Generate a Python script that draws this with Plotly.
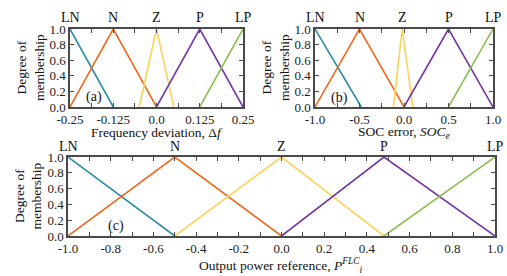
import plotly.graph_objects as go

W, H = 507, 276

labels = ["LN", "N", "Z", "P", "LP"]
colors = ["#2b8ca3", "#f06a1c", "#fdd35c", "#7236a6", "#8dbf52"]

# (a) frequency deviation membership functions
a_x = {
    "LN": [-0.25, -0.125],
    "N": [-0.25, -0.125, 0.0],
    "Z": [-0.05, 0.0, 0.05],
    "P": [0.0, 0.125, 0.25],
    "LP": [0.125, 0.25],
}
a_y = {
    "LN": [1, 0],
    "N": [0, 1, 0],
    "Z": [0, 1, 0],
    "P": [0, 1, 0],
    "LP": [0, 1],
}
a_peaks = [-0.25, -0.125, 0.0, 0.125, 0.25]
a_ticks = [-0.25, -0.125, 0.0, 0.125, 0.25]
a_ticktext = ["-0.25", "-0.125", "0.0", "0.125", "0.25"]

# (b) SOC error membership functions
b_x = {
    "LN": [-1.0, -0.48],
    "N": [-1.0, -0.5, 0.0],
    "Z": [-0.12, -0.02, 0.1],
    "P": [0.0, 0.5, 1.0],
    "LP": [0.5, 1.0],
}
b_y = a_y
b_peaks = [-1.0, -0.5, -0.02, 0.5, 1.0]
b_ticks = [-1.0, -0.5, 0.0, 0.5, 1.0]
b_ticktext = ["-1.0", "-0.5", "0.0", "0.5", "1.0"]

# (c) output power reference membership functions
c_x = {
    "LN": [-1.0, -0.5],
    "N": [-1.0, -0.5, 0.0],
    "Z": [-0.5, 0.0, 0.48],
    "P": [0.0, 0.48, 1.0],
    "LP": [0.48, 1.0],
}
c_y = a_y
c_peaks = [-1.0, -0.5, 0.0, 0.48, 1.0]
c_ticks = [-1.0, -0.8, -0.6, -0.4, -0.2, 0.0, 0.2, 0.4, 0.6, 0.8, 1.0]
c_ticktext = ["-1.0", "-0.8", "-0.6", "-0.4", "-0.2", "0.0", "0.2", "0.4", "0.6", "0.8", "1.0"]

y_ticks = [0.0, 0.2, 0.4, 0.6, 0.8, 1.0]
y_ticktext = ["0.0", "0.2", "0.4", "0.6", "0.8", "1.0"]

FONT = "Liberation Serif"
AX = "#4a4a4a"

def px_x(p):
    return p / W

def px_y(p):
    return 1 - p / H

panels = [
    ("a", a_x, a_y, a_peaks, a_ticks, a_ticktext, [-0.25, 0.25], 0.0625, (70, 243), (29, 107), (-0.18, 0.13),
     "Frequency deviation, Δ<i>f</i>", 157, 25),
    ("b", b_x, b_y, b_peaks, b_ticks, b_ticktext, [-1.0, 1.0], 0.25, (315, 493), (29, 107), (-0.73, 0.12),
     "SOC error, <i>SOC<sub>e</sub></i>", 404, 25),
    ("c", c_x, c_y, c_peaks, c_ticks, c_ticktext, [-1.0, 1.0], 0.1, (68, 495), (157, 236), (-0.775, 0.13),
     "Output power reference, <i>P<sup>FLC</sup><sub>i</sub></i>", 281, 29),
]

fig = go.Figure()
annotations = []
layout = {}

for i, (name, xs, ys, peaks, ticks, ttext, rng, mdt, dx, dy, lab, xtitle, xtc, xto) in enumerate(panels):
    sfx = "" if i == 0 else str(i + 1)
    xa, ya = "x" + sfx, "y" + sfx
    for lbl, col in zip(labels, colors):
        fig.add_trace(go.Scatter(x=xs[lbl], y=ys[lbl], mode="lines",
                                 line=dict(color=col, width=1.6),
                                 xaxis=xa, yaxis=ya, showlegend=False,
                                 hoverinfo="skip"))
    layout["xaxis" + sfx] = dict(
        domain=[px_x(dx[0]), px_x(dx[1])], anchor=ya, range=rng,
        tickmode="array", tickvals=ticks, ticktext=ttext,
        ticks="inside", ticklen=4, tickwidth=1, tickcolor=AX,
        minor=dict(ticks="inside", dtick=mdt, tick0=rng[0], ticklen=4, tickcolor=AX, tickwidth=1),
        showline=True, linecolor=AX, linewidth=1.5, mirror="ticks",
        showgrid=False, zeroline=False,
        tickfont=dict(family=FONT, size=13, color="#222"),
    )
    layout["yaxis" + sfx] = dict(
        domain=[px_y(dy[1]), px_y(dy[0])], anchor=xa, range=[0, 1],
        tickmode="array", tickvals=y_ticks, ticktext=y_ticktext,
        ticks="inside", ticklen=4, tickwidth=1, tickcolor=AX,
        showline=True, linecolor=AX, linewidth=1.5, mirror="ticks",
        showgrid=False, zeroline=False,
        tickfont=dict(family=FONT, size=13, color="#222"),
    )
    for lbl, pk in zip(labels, peaks):
        annotations.append(dict(x=pk, y=px_y(dy[0] - 11), xref=xa, yref="paper",
                                text=lbl, showarrow=False, xanchor="center", yanchor="middle",
                                font=dict(family=FONT, size=14, color="#111")))
    annotations.append(dict(x=lab[0], y=lab[1], xref=xa, yref=ya, text="(" + name + ")",
                            showarrow=False, xanchor="center", yanchor="middle",
                            font=dict(family=FONT, size=14, color="#111")))
    annotations.append(dict(x=px_x(xtc), y=px_y(dy[1] + xto), xref="paper", yref="paper",
                            text=xtitle, showarrow=False, xanchor="center", yanchor="middle",
                            font=dict(family=FONT, size=13.5, color="#111")))
    ytx = dx[0] - 40
    annotations.append(dict(x=px_x(ytx), y=(px_y(dy[0]) + px_y(dy[1])) / 2, xref="paper", yref="paper",
                            text="Degree of<br>membership", showarrow=False, textangle=-90,
                            xanchor="center", yanchor="middle",
                            font=dict(family=FONT, size=13.5, color="#111")))

fig.update_layout(
    width=W, height=H,
    margin=dict(l=0, r=0, t=0, b=0, autoexpand=False),
    paper_bgcolor="white", plot_bgcolor="white",
    annotations=annotations,
    **layout,
)

fig.write_html("out.html", config={"displayModeBar": False},
               post_script="document.body.style.margin='0';document.body.style.overflow='hidden';")
